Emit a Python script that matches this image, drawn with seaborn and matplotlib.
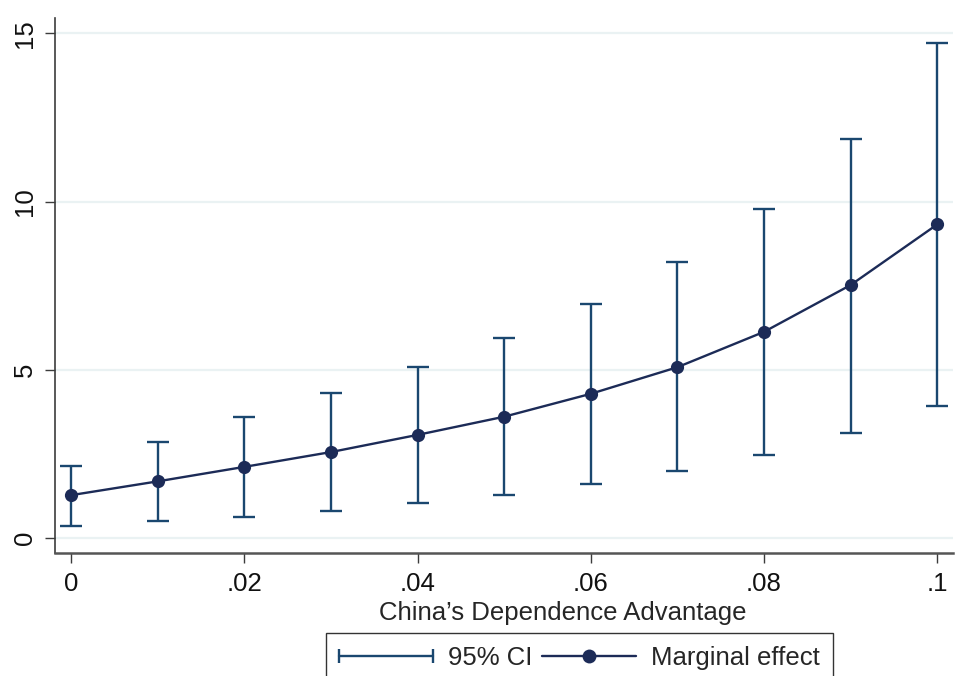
import numpy as np
import pandas as pd
import matplotlib
matplotlib.use("Agg")
import matplotlib.pyplot as plt
import seaborn as sns
from matplotlib.lines import Line2D
from matplotlib.legend_handler import HandlerLine2D

# ---- data ----
dependence = [0.0, 0.01, 0.02, 0.03, 0.04, 0.05, 0.06, 0.07, 0.08, 0.09, 0.10]
marginal_effect = [1.28, 1.69, 2.12, 2.56, 3.07, 3.61, 4.29, 5.08, 6.13, 7.52, 9.32]
ci_lower = [0.36, 0.50, 0.64, 0.80, 1.05, 1.28, 1.60, 1.99, 2.47, 3.12, 3.92]
ci_upper = [2.16, 2.87, 3.60, 4.32, 5.10, 5.96, 6.96, 8.19, 9.79, 11.86, 14.70]
x_ticks = [0, 0.02, 0.04, 0.06, 0.08, 0.10]
x_ticklabels = ["0", ".02", ".04", ".06", ".08", ".1"]
y_ticks = [0, 5, 10, 15]
y_ticklabels = ["0", "5", "10", "15"]
x_label = "China\u2019s Dependence Advantage"
legend_labels = ["95% CI", "Marginal effect"]

df = pd.DataFrame({"x": dependence, "me": marginal_effect,
                   "lo": ci_lower, "hi": ci_upper})

sns.set_theme(style="white")
plt.rcParams["font.family"] = ["Liberation Sans", "DejaVu Sans"]

CI_COLOR = "#1a476f"
LINE_COLOR = "#1c2b57"
GRID_COLOR = "#eaf2f3"
SPINE_COLOR = "#3c3c3c"
FS = 18.5

fig = plt.figure(figsize=(9.55, 6.76), dpi=100)
ax = fig.add_axes([0.0576, 0.1815, 0.9406, 0.7919])

# grid
for yv in y_ticks:
    ax.axhline(yv, color=GRID_COLOR, lw=1.6, zorder=0)

# CI error bars
yerr = np.vstack([df["me"] - df["lo"], df["hi"] - df["me"]])
ax.errorbar(df["x"], df["me"], yerr=yerr, fmt="none", ecolor=CI_COLOR,
            elinewidth=1.7, capsize=8, capthick=1.7, zorder=2)

# marginal effect line
sns.lineplot(data=df, x="x", y="me", ax=ax, color=LINE_COLOR, lw=1.7,
             marker="o", markersize=9.5, markeredgewidth=0,
             markerfacecolor=LINE_COLOR, zorder=3, legend=False)

ax.set_xlim(-0.001847, 0.10185)
ax.set_ylim(-0.446, 15.45)
ax.set_xticks(x_ticks)
ax.set_xticklabels(x_ticklabels)
ax.set_yticks(y_ticks)
ax.set_yticklabels(y_ticklabels, rotation=90, va="center")
ax.set_xlabel(x_label, fontsize=FS)
ax.xaxis.set_label_coords(0.5655, -0.09)
ax.set_ylabel("")

ax.tick_params(axis="both", which="major", direction="out", length=7.2,
               width=1.0, color=SPINE_COLOR, labelsize=FS, pad=6,
               bottom=True, left=True, labelcolor="#111111")

for s in ["top", "right"]:
    ax.spines[s].set_visible(False)
ax.spines["left"].set_color(SPINE_COLOR)
ax.spines["left"].set_linewidth(1.2)
ax.spines["bottom"].set_color("#555555")
ax.spines["bottom"].set_linewidth(1.8)

# legend
ci_handle = Line2D([0], [0], color=CI_COLOR, lw=1.7, marker="|",
                   markersize=10, markeredgewidth=1.7)
me_handle = Line2D([0], [0], color=LINE_COLOR, lw=1.7, marker="o",
                   markersize=10, markeredgewidth=0)
leg = fig.legend([ci_handle, me_handle], legend_labels, loc="upper center",
                 bbox_to_anchor=(0.6068, 0.0636), ncol=2, fontsize=FS,
                 frameon=True, fancybox=False, edgecolor="#333333",
                 framealpha=1, borderpad=0.5, handlelength=3.66,
                 columnspacing=0.35, handletextpad=0.6, borderaxespad=0,
                 handler_map={ci_handle: HandlerLine2D(numpoints=2, marker_pad=0),
                              me_handle: HandlerLine2D(numpoints=1)})
leg.get_frame().set_linewidth(1.0)

fig.savefig("out.png", dpi=100)
